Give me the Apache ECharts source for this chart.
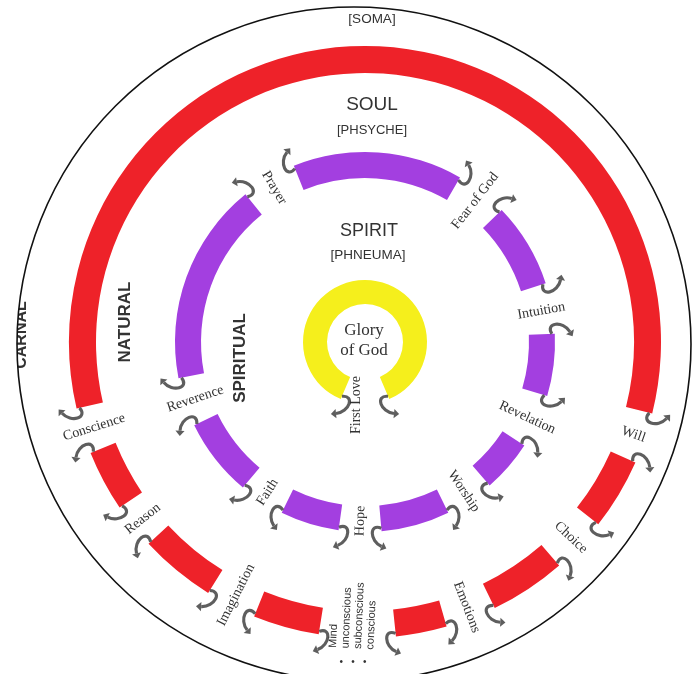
<!DOCTYPE html>
<html>
<head>
<meta charset="utf-8">
<script src="https://cdn.jsdelivr.net/npm/echarts@6/dist/echarts.min.js"></script>
<style>
html, body { margin: 0; padding: 0; background: #fff; }
#wheel { width: 693px; height: 674px; }
</style>
</head>
<body>
<div id="wheel"></div>
<script>
// ring segments, angles in degrees (0 = east, counter-clockwise)
const redStart = [-14, 202, 223, 248, 276, 296, 322];
const redEnd = [193, 214, 238, 261, 286, 311, 336];
const purpleStart = [60, 129, 206, 244, 275, 311, 343.5, 18];
const purpleEnd = [112, 191, 230, 262, 296, 327, 362.5, 44];
const yellowStart = [-67];
const yellowEnd = [247];

// labels sitting in the gaps
const redLabels = ['Conscience', 'Reason', 'Imagination', 'Mind\nunconscious\nsubconscious\nconscious', 'Emotions', 'Choice', 'Will'];
const redLabelAngle = [197.5, 218.5, 243, 267.5, 291, 316.5, 341];
const purpleLabels = ['Intuition', 'Fear of God', 'Prayer', 'Reverence', 'Faith', 'Hope', 'Worship', 'Revelation'];
const purpleLabelAngle = [10, 52, 120.5, 198.5, 237, 268.5, 303.5, 335];

const RED = '#ee2229', PURPLE = '#a33fe0', YELLOW = '#f5ef1c', INK = '#333333', CURL = '#5e5e5e';
const D2R = Math.PI / 180;

let myChart = null;

function pairs(a, b) {
    return a.map((v, i) => [v, b[i]]);
}

// little curled arrow at a segment end, side 1 = start, -1 = end
function curl(api, angle, r, side) {
    const p = api.coord([r, angle]);
    return {
        type: 'group',
        x: p[0], y: p[1],
        rotation: (angle - 90) * D2R,
        scaleX: side * 1.3,
        scaleY: 1.3,
        children: [
            {
                type: 'bezierCurve',
                shape: { x1: 0, y1: 0, cpx1: 9, cpy1: 5, cpx2: 10, cpy2: -9, x2: 1, y2: -14 },
                style: { stroke: CURL, lineWidth: 2.4, fill: null }
            },
            {
                type: 'polygon',
                shape: { points: [[-2.5, -15.9], [2.7, -17.1], [-0.7, -10.9]] },
                style: { fill: CURL }
            }
        ]
    };
}

function ring(r0, r1, color) {
    return function (params, api) {
        const a0 = api.value(0), a1 = api.value(1);
        const c = api.coord([0, 0]);
        const po = api.coord([r1, a0]);
        const pi = api.coord([r0, a0]);
        const pe = api.coord([r1, a1]);
        const s0 = Math.atan2(po[1] - c[1], po[0] - c[0]);
        let s1 = Math.atan2(pe[1] - c[1], pe[0] - c[0]);
        while (s1 > s0) s1 -= Math.PI * 2;
        return {
            type: 'group',
            children: [
                {
                    type: 'sector',
                    shape: {
                        cx: c[0], cy: c[1],
                        r0: Math.hypot(pi[0] - c[0], pi[1] - c[1]),
                        r: Math.hypot(po[0] - c[0], po[1] - c[1]),
                        startAngle: s0, endAngle: s1, clockwise: false
                    },
                    style: { fill: color }
                },
                curl(api, a0, r1 - 3, 1),
                curl(api, a1, r1 - 3, -1)
            ]
        };
    };
}

function labels(r, names) {
    return function (params, api) {
        const a = api.value(0);
        const text = names[params.dataIndex];
        const multi = text.indexOf('\n') >= 0;
        const p = api.coord([multi ? r + 23 : r, a]);
        const norm = ((a % 360) + 360) % 360;
        const rot = (norm > 90 && norm < 270) ? a - 180 : a;
        return {
            type: 'text',
            x: p[0], y: p[1],
            rotation: rot * D2R,
            style: {
                text: text,
                fill: INK,
                fontFamily: multi ? 'Liberation Sans' : 'Liberation Serif',
                fontSize: multi ? 11 : 14,
                lineHeight: 12.5,
                align: multi ? 'left' : 'center',
                textAlign: multi ? 'left' : 'center',
                verticalAlign: 'middle',
                textVerticalAlign: 'middle'
            }
        };
    };
}

function headText(text, x, y, size, opts) {
    return Object.assign({
        type: 'text', x: x, y: y, z: 10,
        style: Object.assign({
            text: text, fill: INK,
            fontFamily: 'Liberation Sans', fontSize: size,
            align: 'center', textAlign: 'center',
            verticalAlign: 'middle', textVerticalAlign: 'middle'
        }, opts && opts.style)
    }, opts && opts.el);
}

function initChart() {
    myChart = echarts.init(document.getElementById('wheel'));
    const vert = { el: { rotation: Math.PI / 2 }, style: { fontWeight: 'bold' } };
    const option = {
        animation: false,
        polar: { center: [365, 342], radius: 300 },
        angleAxis: { type: 'value', min: 0, max: 360, startAngle: 0, clockwise: false, show: false },
        radiusAxis: { type: 'value', min: 0, max: 300, show: false },
        series: [
            { type: 'custom', coordinateSystem: 'polar', renderItem: ring(269, 296, RED), data: pairs(redStart, redEnd) },
            { type: 'custom', coordinateSystem: 'polar', renderItem: ring(164, 190, PURPLE), data: pairs(purpleStart, purpleEnd) },
            { type: 'custom', coordinateSystem: 'polar', renderItem: ring(38, 62, YELLOW), data: pairs(yellowStart, yellowEnd) },
            {
                type: 'custom', coordinateSystem: 'polar', renderItem: labels(284, redLabels),
                data: redLabelAngle.map(a => [a, 0])
            },
            {
                type: 'custom', coordinateSystem: 'polar', renderItem: labels(179, purpleLabels),
                data: purpleLabelAngle.map(a => [a, 0])
            }
        ],
        graphic: {
            elements: [
                headText('CARNAL', 22, 335, 16, { el: { rotation: Math.PI / 2, z: 5 }, style: { fontWeight: 'bold' } }),
                {
                    type: 'circle', z: 100, silent: true,
                    shape: { cx: 354, cy: 344, r: 497 },
                    style: { fill: null, stroke: '#ffffff', lineWidth: 320 }
                },
                {
                    type: 'circle', z: 101, silent: true,
                    shape: { cx: 354, cy: 344, r: 337 },
                    style: { fill: null, stroke: '#111111', lineWidth: 1.6 }
                },
                headText('[SOMA]', 372, 19, 13.5),
                headText('SOUL', 372, 105, 19),
                headText('[PHSYCHE]', 372, 130, 13),
                headText('SPIRIT', 369, 231, 18),
                headText('[PHNEUMA]', 368, 255, 13.5),
                headText('NATURAL', 125, 322, 17, vert),
                headText('SPIRITUAL', 240, 358, 17, vert),
                headText('Glory\nof God', 364, 341, 17, { style: { fontFamily: 'Liberation Serif', lineHeight: 20 } }),
                headText('First Love', 356, 405, 14, { el: { rotation: Math.PI / 2 }, style: { fontFamily: 'Liberation Serif' } }),
                headText('\u2022   \u2022   \u2022', 353, 662, 10)
            ]
        }
    };
    myChart.setOption(option);
}

window.addEventListener('resize', () => {
    if (myChart) myChart.resize();
});

window.onload = initChart;
</script>
</body>
</html>
